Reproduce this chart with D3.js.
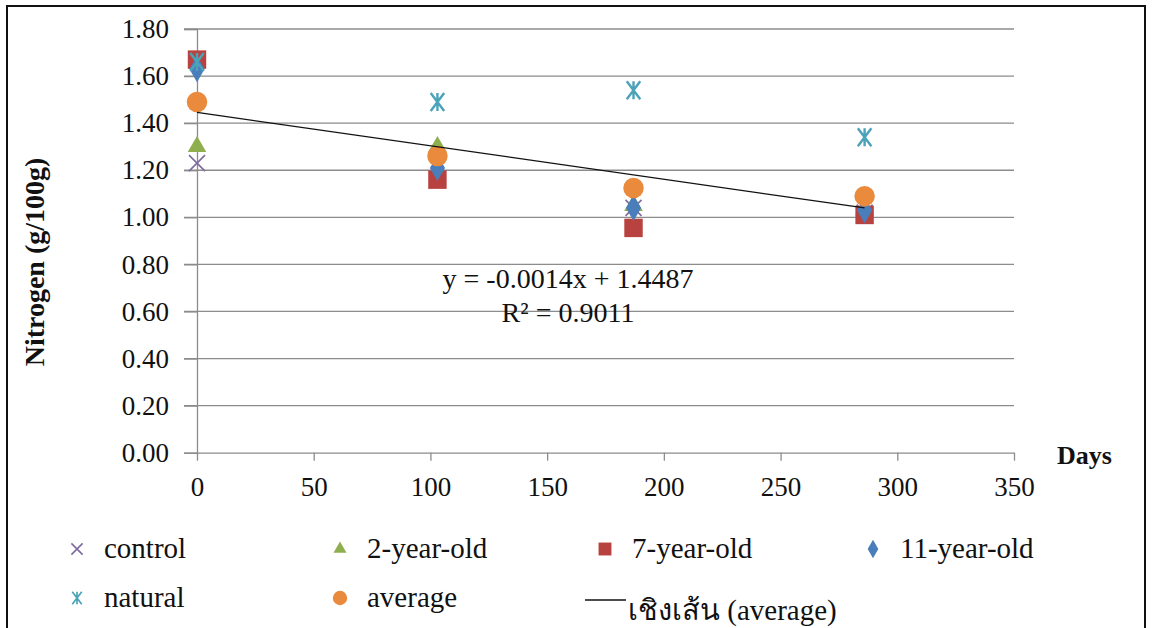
<!DOCTYPE html>
<html>
<head>
<meta charset="utf-8">
<script src="https://cdn.jsdelivr.net/npm/d3@7"></script>
</head>
<body style="margin:0">
<script>
"use strict";

// values
var days = [0, 103, 187, 286];
var seriesNames = ["control", "2-year-old", "7-year-old", "11-year-old", "natural", "average"];
var control = [1.23, 1.21, 1.04, 1.02];
var twoYear = [1.30, 1.30, 1.05, 1.03];
var sevenYear = [1.67, 1.16, 0.955, 1.01];
var elevenYear = [1.63, 1.21, 1.04, 1.03];
var natural = [1.66, 1.49, 1.54, 1.34];
var average = [1.49, 1.26, 1.125, 1.09];
var yTicks = [0, 0.2, 0.4, 0.6, 0.8, 1.0, 1.2, 1.4, 1.6, 1.8];
var xTicks = [0, 50, 100, 150, 200, 250, 300, 350];
var trendLabel = ["y = -0.0014x + 1.4487", "R\u00b2 = 0.9011"];
var trendName = "เชิงเส้น (average)";

const FONT = "'Liberation Serif', monospace";
const W = 1152, H = 628;
const svg = d3.select("body").append("svg")
	.attr("width", W).attr("height", H);

// outer frame
svg.append("rect")
	.attr("x", 7).attr("y", 6).attr("width", 1138).attr("height", 640)
	.attr("fill", "none").attr("stroke", "#111").attr("stroke-width", 2);

const x = d3.scaleLinear().domain([0, 350]).range([197, 1014]);
const y = d3.scaleLinear().domain([0, 1.8]).range([452.7, 29]);

// gridlines
svg.append("g").selectAll("line")
	.data(yTicks.slice(1))
	.enter().append("line")
	.attr("x1", 184).attr("x2", x(350))
	.attr("y1", d => y(d)).attr("y2", d => y(d))
	.attr("stroke", "#8c8c8c").attr("stroke-width", 1.3);

// y axis
const yAxis = svg.append("g")
	.attr("transform", `translate(${x(0)},0)`)
	.call(d3.axisLeft(y).tickValues(yTicks).tickFormat(d3.format(".2f")).tickSize(13).tickPadding(15));
yAxis.attr("font-family", null);
yAxis.select(".domain").attr("stroke", "#8c8c8c").attr("stroke-width", 1.3);
yAxis.selectAll(".tick line").attr("stroke", "#8c8c8c").attr("stroke-width", 1.3);
yAxis.selectAll("text").attr("font-size", 27).attr("fill", "#111").style("font-family", FONT);

// x axis
const xAxis = svg.append("g")
	.attr("transform", `translate(0,${y(0)})`)
	.call(d3.axisBottom(x).tickValues(xTicks).tickSize(8).tickSizeOuter(0).tickPadding(16));
xAxis.attr("font-family", null);
xAxis.select(".domain").attr("stroke", "#8c8c8c").attr("stroke-width", 1.3);
xAxis.selectAll(".tick line").attr("stroke", "#8c8c8c").attr("stroke-width", 1.3);
xAxis.selectAll("text").attr("font-size", 27).attr("fill", "#111").style("font-family", FONT);

// axis titles
svg.append("text")
	.attr("transform", "translate(44,262) rotate(-90)")
	.attr("text-anchor", "middle")
	.attr("font-size", 28).attr("font-weight", "bold")
	.style("font-family", FONT).attr("fill", "#111")
	.text("Nitrogen (g/100g)");
svg.append("text")
	.attr("x", 1057).attr("y", 464)
	.attr("font-size", 26).attr("font-weight", "bold")
	.style("font-family", FONT).attr("fill", "#111")
	.text("Days");

// marker shapes
const symbols = {
	control: { type: "x", color: "#7f6a9f" },
	"2-year-old": { type: d3.symbolTriangle, size: 150, color: "#8faf4f" },
	"7-year-old": { type: d3.symbolSquare, size: 340, color: "#b8423f" },
	"11-year-old": { type: d3.symbolDiamond, size: 200, color: "#4a7ebb" },
	natural: { type: "star", color: "#4aa3b8" },
	average: { type: d3.symbolCircle, size: 330, color: "#ea8a3c" }
};

function drawMarker(g, name, cx, cy, scale) {
	const s = symbols[name];
	const k = scale || 1;
	if (s.type === "x") {
		const r = 8 * k;
		g.append("path")
			.attr("d", `M${cx - r},${cy - r}L${cx + r},${cy + r}M${cx - r},${cy + r}L${cx + r},${cy - r}`)
			.attr("stroke", s.color).attr("stroke-width", 1.6).attr("fill", "none");
	} else if (s.type === "star") {
		const r = 9 * k;
		const a = r * 0.75;
		g.append("path")
			.attr("d", `M${cx - a},${cy - r}L${cx + a},${cy + r}M${cx - a},${cy + r}L${cx + a},${cy - r}M${cx},${cy - r}L${cx},${cy + r}`)
			.attr("stroke", s.color).attr("stroke-width", 2.4 * k).attr("fill", "none");
	} else {
		g.append("path")
			.attr("d", d3.symbol().type(s.type).size(s.size * k * k)())
			.attr("transform", `translate(${cx},${cy})`)
			.attr("fill", s.color);
	}
}

const seriesValues = [control, twoYear, sevenYear, elevenYear, natural, average];
const pts = svg.append("g");
seriesValues.forEach((vals, i) => {
	vals.forEach((v, j) => drawMarker(pts, seriesNames[i], x(days[j]), y(v)));
});

// linear trend line of average (least squares)
const mx = d3.mean(days), my = d3.mean(average);
const slope = d3.sum(days, (d, i) => (d - mx) * (average[i] - my)) / d3.sum(days, d => (d - mx) * (d - mx));
const icpt = my - slope * mx;
const xr = d3.extent(days);
svg.append("line")
	.attr("x1", x(xr[0])).attr("y1", y(icpt + slope * xr[0]))
	.attr("x2", x(xr[1])).attr("y2", y(icpt + slope * xr[1]))
	.attr("stroke", "#111").attr("stroke-width", 1.3);

// equation label
svg.append("g").selectAll("text")
	.data(trendLabel)
	.enter().append("text")
	.attr("x", 568)
	.attr("y", (d, i) => 288 + i * 34)
	.attr("text-anchor", "middle")
	.attr("font-size", 28)
	.attr("fill", "#111")
	.style("font-family", FONT)
	.text(d => d);

// legend
const legendPos = [
	[77, 549], [340, 549], [605, 549], [873, 549],
	[77, 598], [340, 598]
];
const leg = svg.append("g");
seriesNames.forEach((name, i) => {
	const p = legendPos[i];
	drawMarker(leg, name, p[0], p[1], 0.7);
	leg.append("text")
		.attr("x", p[0] + 27).attr("y", p[1] + 9)
		.attr("font-size", 29)
		.attr("fill", "#111")
		.style("font-family", FONT)
		.text(name);
});
leg.append("line")
	.attr("x1", 585).attr("x2", 626).attr("y1", 600).attr("y2", 600)
	.attr("stroke", "#111").attr("stroke-width", 1.3);
leg.append("text")
	.attr("x", 628).attr("y", 620)
	.attr("font-size", 29)
	.attr("fill", "#111")
	.style("font-family", FONT)
	.text(trendName);
</script>
</body>
</html>
